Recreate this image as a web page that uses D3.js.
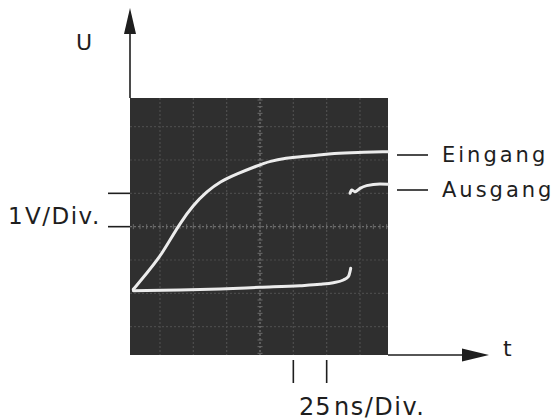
<!DOCTYPE html>
<html><head><meta charset="utf-8">
<script src="https://cdn.jsdelivr.net/npm/d3@7/dist/d3.min.js"></script>
<style>body{margin:0;background:#fff}svg{display:block}</style>
</head><body><svg id="c" width="560" height="420"></svg>
<script>
// time in ns (25 ns/Div), voltage in V (1 V/Div)
const eingangT = [2.5, 12.5, 22.5, 30, 37.5, 47.5, 57.5, 67.5, 80, 95, 105, 117.5, 127.5, 140, 152.5, 170, 193.5];
const eingangU = [0.12, 0.6, 1.1, 1.6, 2.1, 2.65, 3.05, 3.35, 3.58, 3.82, 3.97, 4.06, 4.1, 4.14, 4.2, 4.23, 4.25];
const ausgang1T = [2.5, 37.5, 67.5, 97.5, 127.5, 142.5, 152.5, 160, 163.75, 165, 165.5];
const ausgang1U = [0.08, 0.1, 0.13, 0.18, 0.23, 0.27, 0.32, 0.4, 0.5, 0.65, 0.75];
const ausgang2T = [165, 166.25, 168.75, 172.5, 177.5, 187.5, 193.5];
const ausgang2U = [3.0, 3.1, 3.05, 3.15, 3.23, 3.28, 3.27];
const gridT = [22.5, 47.5, 72.5, 97.5, 122.5, 147.5, 172.5];
const gridU = [-1, 0, 1, 2, 3, 4, 5];
const voltTicks = [2, 3];
const timeTicks = [122.5, 147.5];
const seriesNames = ["Eingang", "Ausgang"];
const seriesY = [4.15, 3.1];

const svg = d3.select("#c");
const x = d3.scaleLinear().domain([0, 193.5]).range([130, 388]);
const y = d3.scaleLinear().domain([-1.85, 5.86]).range([355, 98]);
const ink = "#1e1e1e";
const font = "DejaVu Sans, sans-serif";

// screen
svg.append("rect").attr("x", x(0)).attr("y", y(5.86)).attr("width", x(193.5) - x(0)).attr("height", y(-1.85) - y(5.86)).attr("fill", "#2f2f2f");

// grid
const g = svg.append("g");
g.selectAll("line.v").data(gridT).join("line")
  .attr("x1", d => x(d)).attr("x2", d => x(d)).attr("y1", y(5.86)).attr("y2", y(-1.85))
  .attr("stroke", d => d === 97.5 ? "#7a7a7a" : "#4e4e4e").attr("stroke-width", 1.2)
  .attr("stroke-dasharray", "2,2");
g.selectAll("line.h").data(gridU).join("line")
  .attr("y1", d => y(d)).attr("y2", d => y(d)).attr("x1", x(0)).attr("x2", x(193.5))
  .attr("stroke", d => d === 2 ? "#6e6e6e" : "#4a4a4a").attr("stroke-width", 1.2)
  .attr("stroke-dasharray", "2,2");
// minor ticks on center lines
const minorT = d3.range(2.5, 194, 5);
g.selectAll("line.mt").data(minorT).join("line")
  .attr("x1", d => x(d)).attr("x2", d => x(d)).attr("y1", y(2) - 2.5).attr("y2", y(2) + 2.5)
  .attr("stroke", "#6a6a6a").attr("stroke-width", 1);
const minorU = d3.range(-1.8, 5.9, 0.2);
g.selectAll("line.mu").data(minorU).join("line")
  .attr("y1", d => y(d)).attr("y2", d => y(d)).attr("x1", x(97.5) - 2.5).attr("x2", x(97.5) + 2.5)
  .attr("stroke", "#6a6a6a").attr("stroke-width", 1);

// traces
const smooth = d3.line().x(d => x(d[0])).y(d => y(d[1])).curve(d3.curveBasis);
const line = d3.line().x(d => x(d[0])).y(d => y(d[1])).curve(d3.curveMonotoneX);
const tr = "#ececec";
[[eingangT, eingangU, smooth], [ausgang1T, ausgang1U, line], [ausgang2T, ausgang2U, line]].forEach(([t, u, gen]) => {
  svg.append("path").attr("d", gen(d3.zip(t, u))).attr("fill", "none")
    .attr("stroke", tr).attr("stroke-width", 3).attr("stroke-linecap", "round");
});

// axes arrows
svg.append("line").attr("x1", x(0)).attr("x2", x(0)).attr("y1", y(5.86)).attr("y2", 30).attr("stroke", ink).attr("stroke-width", 1.6);
svg.append("path").attr("d", `M${x(0)},8 L${x(0) - 6},34 L${x(0) + 6},34 Z`).attr("fill", ink);
svg.append("line").attr("x1", x(193.5)).attr("x2", 465).attr("y1", y(-1.85)).attr("y2", y(-1.85)).attr("stroke", ink).attr("stroke-width", 1.6);
svg.append("path").attr("d", `M489,${y(-1.85)} L462,${y(-1.85) - 6.5} L462,${y(-1.85) + 6.5} Z`).attr("fill", ink);

// scale ticks
svg.selectAll("line.vt").data(voltTicks).join("line")
  .attr("x1", 108).attr("x2", x(0)).attr("y1", d => y(d)).attr("y2", d => y(d)).attr("stroke", ink).attr("stroke-width", 1.6);
svg.selectAll("line.tt").data(timeTicks).join("line")
  .attr("x1", d => x(d)).attr("x2", d => x(d)).attr("y1", 360).attr("y2", 383).attr("stroke", ink).attr("stroke-width", 1.6);

// labels
const txt = (s, tx, ty, fs, ls) => svg.append("text").attr("x", tx).attr("y", ty).text(s)
  .attr("font-family", font).attr("font-size", fs).attr("fill", ink).attr("letter-spacing", ls || 0);
txt("U", 76, 50, 22);
txt("t", 503, 356, 22);
txt("1", 8, 224, 23);
txt("V/Div.", 25, 224, 23, 1.5);
txt("25", 299, 415, 24, 1);
txt("ns/Div.", 334, 415, 24, 1.5);
seriesNames.forEach((n, i) => {
  svg.append("line").attr("x1", 397).attr("x2", 428).attr("y1", y(seriesY[i])).attr("y2", y(seriesY[i])).attr("stroke", ink).attr("stroke-width", 1.6);
  txt(n, 442, y(seriesY[i]) + 7, 21, 3);
});
</script></body></html>
